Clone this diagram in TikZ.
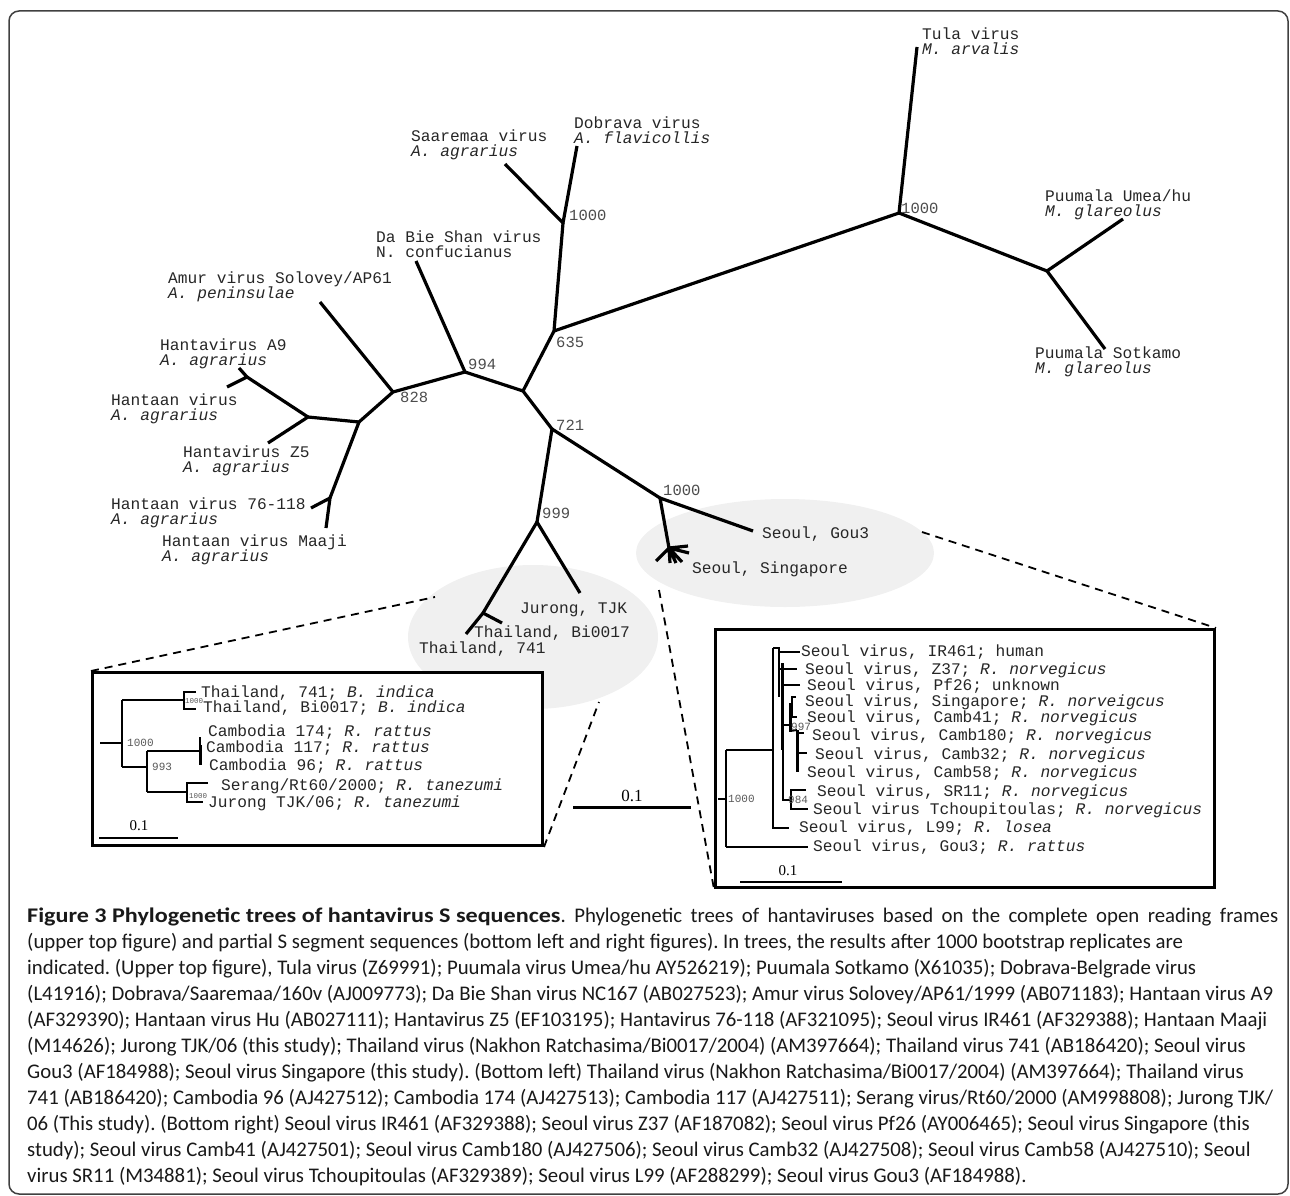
\documentclass[tikz,border=0pt]{standalone}
\usepackage{fontspec}
\newfontfamily\treefont{Liberation Mono}
\newfontfamily\capfont{Carlito}
\newfontfamily\barfont{Liberation Serif}
\begin{document}
\frenchspacing
\begin{tikzpicture}[x=1pt,y=-1pt,
  br/.style={line width=3.2pt, line join=round},
  ibr/.style={line width=2pt},
  ibox/.style={draw, line width=3pt, fill=white},
  blob/.style={fill=black!6, draw=none},
  zoomline/.style={line width=1.8pt, dash pattern=on 8pt off 6pt},
  lbl/.style={anchor=west, inner sep=0pt, align=left, text=black!85, font=\treefont\fontsize{16.2}{15.5}\selectfont},
  boot/.style={anchor=west, inner sep=0pt, text=black!70, font=\treefont\fontsize{15.5}{15.5}\selectfont},
  sboot/.style={anchor=west, inner sep=0pt, text=black!65, font=\treefont\fontsize{11}{11}\selectfont},
  tboot/.style={anchor=west, inner sep=0pt, text=black!65, font=\treefont\fontsize{7.5}{7.5}\selectfont},
  ilbl/.style={anchor=west, inner sep=0pt, text=black!85, font=\treefont\fontsize{16.2}{15.5}\selectfont},
  sbar/.style={inner sep=0pt, font=\barfont\fontsize{17}{17}\selectfont},
  capl/.style={anchor=base west, inner sep=0pt, text=black!90, font=\capfont\fontsize{20.8}{26}\selectfont}
]
\useasboundingbox (0,0) rectangle (1290,1196);
\draw[black!75, line width=1.5pt, rounded corners=10pt] (9,11) rectangle (1288,1194);

% grey highlight ellipses
\fill[blob] (533,637) ellipse [x radius=125, y radius=72];
\fill[blob] (785,553) ellipse [x radius=149, y radius=54];

% ---------- main unrooted tree ----------
\coordinate (tula) at (917,47);
\coordinate (nP) at (899,213);
\coordinate (pu) at (1047,271);
\coordinate (umea) at (1123,219);
\coordinate (sotk) at (1105,349);
\coordinate (n635) at (554,331);
\coordinate (nD) at (563,223);
\coordinate (dob) at (577,146);
\coordinate (saa) at (505,164);
\coordinate (ctr) at (523,391);
\coordinate (n994) at (465,372);
\coordinate (dbs) at (416,261);
\coordinate (n828) at (393,392);
\coordinate (amur) at (320,302);
\coordinate (hx) at (359,422);
\coordinate (hy) at (308,417);
\coordinate (hv) at (247,377);
\coordinate (a9) at (239,368);
\coordinate (htn) at (227,387);
\coordinate (z5) at (268,443);
\coordinate (hw) at (330,498);
\coordinate (h76) at (311,508);
\coordinate (maaji) at (326,528);
\coordinate (n721) at (552,429);
\coordinate (n999) at (537,522);
\coordinate (jur) at (580,593);
\coordinate (th) at (483,613);
\coordinate (t741) at (466,634);
\coordinate (tbi) at (502,623);
\coordinate (nS) at (660,498);
\coordinate (gou) at (753,531);
\coordinate (sing) at (669,548);
\coordinate (s1) at (688,546);
\coordinate (s2) at (689,553);
\coordinate (s3) at (682,562);
\coordinate (s4) at (676,563);
\coordinate (s5) at (670,563);
\coordinate (s6) at (656,561);

\draw[br] (tula) -- (nP) -- (n635);
\draw[br] (nP) -- (pu);
\draw[br] (umea) -- (pu) -- (sotk);
\draw[br] (nD) -- (n635) -- (ctr);
\draw[br] (dob) -- (nD) -- (saa);
\draw[br] (n994) -- (ctr) -- (n721);
\draw[br] (dbs) -- (n994) -- (n828);
\draw[br] (amur) -- (n828) -- (hx);
\draw[br] (hy) -- (hx) -- (hw);
\draw[br] (hv) -- (hy) -- (z5);
\draw[br] (a9) -- (hv) -- (htn);
\draw[br] (h76) -- (hw) -- (maaji);
\draw[br] (n999) -- (n721) -- (nS);
\draw[br] (jur) -- (n999) -- (th);
\draw[br] (t741) -- (th) -- (tbi);
\draw[br] (gou) -- (nS) -- (sing);
\draw[br] (sing) -- (s1) (sing) -- (s2) (sing) -- (s3) (sing) -- (s4) (sing) -- (s5) (sing) -- (s6);

% bootstrap values
\node[boot] (bP) at (901,208) {1000};
\node[boot] (bD) at (569,215) {1000};
\node[boot] (b635) at (556,342) {635};
\node[boot] (b994) at (468,364) {994};
\node[boot] (b828) at (400,397) {828};
\node[boot] (b721) at (556,425) {721};
\node[boot] (b999) at (542,513) {999};
\node[boot] (bS) at (663,490) {1000};

% taxon labels
\node[lbl] (Ltula) at (922,41) {Tula virus\\\textit{M. arvalis}};
\node[lbl] (Ldob) at (574,130) {Dobrava virus\\\textit{A. flavicollis}};
\node[lbl] (Lsaa) at (411,145) {Saaremaa virus\\\textit{A. agrarius}};
\node[lbl] (Ldbs) at (376,244) {Da Bie Shan virus\\N. confucianus};
\node[lbl] (Lamur) at (168,287) {Amur virus Solovey/AP61\\\textit{A. peninsulae}};
\node[lbl] (La9) at (160,354) {Hantavirus A9\\\textit{A. agrarius}};
\node[lbl] (Lhtn) at (111,409) {Hantaan virus\\\textit{A. agrarius}};
\node[lbl] (Lz5) at (183,461) {Hantavirus Z5\\\textit{A. agrarius}};
\node[lbl] (L76) at (111,513) {Hantaan virus 76-118\\\textit{A. agrarius}};
\node[lbl] (Lmaaji) at (162,550) {Hantaan virus Maaji\\\textit{A. agrarius}};
\node[lbl] (Lumea) at (1045,205) {Puumala Umea/hu\\\textit{M. glareolus}};
\node[lbl] (Lsotk) at (1035,362) {Puumala Sotkamo\\\textit{M. glareolus}};
\node[lbl] (Lgou) at (762,534) {Seoul, Gou3};
\node[lbl] (Lsing) at (692,569) {Seoul, Singapore};
\node[lbl] (Ljur) at (520,610) {Jurong, TJK};
\node[lbl] (Lbi) at (474,633) {Thailand, Bi0017};
\node[lbl] (L741) at (419,649) {Thailand, 741};

% main scale bar
\coordinate (msA) at (573,807);
\coordinate (msB) at (691,807);
\draw[line width=3pt] (msA) -- (msB);
\node[sbar] (ms) at (632,796) {0.1};

% ---------- zoom connectors ----------
\coordinate (zl1) at (435,597);
\coordinate (zl2) at (599,702);
\coordinate (zr1) at (659,590);
\coordinate (zr2) at (922,532);

% ---------- left inset ----------
\node[ibox, minimum width=450pt, minimum height=173pt, anchor=north west, inner sep=0pt] (lbox) at (91,671) {};
\draw[zoomline] (lbox.north west) -- (zl1);
\draw[zoomline] (lbox.south east) -- (zl2);

\coordinate (lr) at (100,743);
\coordinate (lA) at (122,743);
\coordinate (lAt) at (122,700);
\coordinate (lAb) at (122,767);
\coordinate (lT) at (184,700);
\coordinate (lTt) at (184,692);
\coordinate (lTb) at (184,709);
\coordinate (lt1) at (196,692);
\coordinate (lt2) at (196,709);
\coordinate (lB) at (147,767);
\coordinate (lBt) at (147,751);
\coordinate (lBb) at (147,792);
\coordinate (lC) at (200,751);
\coordinate (lCt) at (200,737);
\coordinate (lCb) at (200,765);
\coordinate (lS) at (187,792);
\coordinate (lSt) at (187,783);
\coordinate (lSb) at (187,802);
\coordinate (ls1) at (208,783);
\coordinate (ls2) at (203,802);

\draw[line width=1.3pt] (lr) -- (lA);
\draw[ibr] (lAt) -- (lAb);
\draw[ibr] (lAt) -- (lT);
\draw[ibr] (lt1) -- (lTt) -- (lTb) -- (lt2);
\draw[ibr] (lAb) -- (lB);
\draw[ibr] (lBt) -- (lBb);
\draw[ibr] (lBt) -- (lC);
\draw[ibr] (lCt) -- (lCb);
\draw[line width=3pt] (200,745) -- (lCb);
\draw[ibr] (lBb) -- (lS);
\draw[ibr] (ls1) -- (lSt) -- (lSb) -- (ls2);

\node[tboot] (lb1) at (185,701) {1000};
\node[sboot] (lb2) at (127,743) {1000};
\node[sboot] (lb3) at (152,767) {993};
\node[tboot] (lb4) at (189,796) {1000};

\node[ilbl] (i741) at (201,693) {Thailand, 741; \textit{B. indica}};
\node[ilbl] (ibi) at (203,708) {Thailand, Bi0017; \textit{B. indica}};
\node[ilbl] (ic174) at (208,732) {Cambodia 174; \textit{R. rattus}};
\node[ilbl] (ic117) at (206,748) {Cambodia 117; \textit{R. rattus}};
\node[ilbl] (ic96) at (209,766) {Cambodia 96; \textit{R. rattus}};
\node[ilbl] (iser) at (221,786) {Serang/Rt60/2000; \textit{R. tanezumi}};
\node[ilbl] (ijur) at (208,803) {Jurong TJK/06; \textit{R. tanezumi}};

\coordinate (lsA) at (99,838);
\coordinate (lsB) at (178,838);
\draw[line width=2pt] (lsA) -- (lsB);
\node[sbar, font=\barfont\fontsize{15}{15}\selectfont] (ls) at (139,826) {0.1};

% ---------- right inset ----------
\node[ibox, minimum width=499pt, minimum height=258pt, anchor=north west, inner sep=0pt] (rbox) at (714,628) {};
\draw[zoomline] (zr1) -- (rbox.south west);
\draw[zoomline] (zr2) -- (rbox.north east);

\coordinate (rr) at (718,799);
\coordinate (rA) at (726,799);
\coordinate (rAt) at (726,750);
\coordinate (rAb) at (726,847);
\coordinate (rgou) at (808,847);
\coordinate (rB) at (773,750);
\coordinate (rBt) at (773,648);
\coordinate (rBb) at (773,828);
\coordinate (rl99) at (789,828);
\coordinate (rC) at (779,648);
\coordinate (rCb) at (779,697);
\coordinate (rir) at (800,652);
\coordinate (rCi) at (779,652);
\coordinate (rz37a) at (780,669);
\coordinate (rz37) at (797,669);
\coordinate (rD) at (783,800);
\coordinate (rDt) at (783,685);
\coordinate (rpf) at (800,685);
\coordinate (rE) at (791,800);
\coordinate (rEt) at (791,790);
\coordinate (rEb) at (791,809);
\coordinate (rsr) at (806,790);
\coordinate (rtc) at (808,809);
\coordinate (rF) at (790,725);
\coordinate (rFt) at (792,697);
\coordinate (rFb) at (792,717);
\coordinate (rsg) at (796,697);
\coordinate (rc41) at (797,717);
\coordinate (rG) at (797,730);
\coordinate (rGb) at (797,772);
\coordinate (rc180) at (804,733);
\coordinate (rc32) at (807,753);

\draw[line width=1.3pt] (rr) -- (rA);
\draw[ibr] (rAt) -- (rAb);
\draw[ibr] (rAt) -- (rB);
\draw[ibr] (rAb) -- (rgou);
\draw[ibr] (rBt) -- (rBb) -- (rl99);
\draw[ibr] (rBt) -- (rC) -- (rCb);
\draw[ibr] (rCi) -- (rir);
\draw[ibr] (rz37a) -- (rz37);
\draw[ibr] (rpf) -- (rDt) -- (rD) -- (rE);
\draw[line width=3pt] (782,663) -- (782,750);
\draw[ibr] (rsr) -- (rEt) -- (rEb) -- (rtc);
\draw[ibr] (rD |- rF) -- (rF);
\draw[line width=3pt] (790,703) -- (rF) -- (790,732);
\draw[ibr] (rsg) -- (rFt) -- (rFb) -- (rc41);
\draw[ibr] (790,731) -- (rG);
\draw[line width=3pt] (rG) -- (rGb);
\draw[ibr] (797,733) -- (rc180);
\draw[ibr] (797,753) -- (rc32);

\node[sboot] (rb1) at (728,799) {1000};
\node[sboot] (rb2) at (791,727) {997};
\node[sboot] (rb3) at (788,800) {984};

\node[ilbl] (rir461) at (801,652) {Seoul virus, IR461; human};
\node[ilbl] (rZ37) at (805,670) {Seoul virus, Z37; \textit{R. norvegicus}};
\node[ilbl] (rPf) at (807,686) {Seoul virus, Pf26; unknown};
\node[ilbl] (rSg) at (805,702) {Seoul virus, Singapore; \textit{R. norveigcus}};
\node[ilbl] (rC41) at (807,718) {Seoul virus, Camb41; \textit{R. norvegicus}};
\node[ilbl] (rC180) at (812,736) {Seoul virus, Camb180; \textit{R. norvegicus}};
\node[ilbl] (rC32) at (815,755) {Seoul virus, Camb32; \textit{R. norvegicus}};
\node[ilbl] (rC58) at (807,773) {Seoul virus, Camb58; \textit{R. norvegicus}};
\node[ilbl] (rSR) at (817,792) {Seoul virus, SR11; \textit{R. norvegicus}};
\node[ilbl] (rTc) at (813,810) {Seoul virus Tchoupitoulas; \textit{R. norvegicus}};
\node[ilbl] (rL99) at (799,828) {Seoul virus, L99; \textit{R. losea}};
\node[ilbl] (rGou) at (813,847) {Seoul virus, Gou3; \textit{R. rattus}};

\coordinate (rsA) at (740,882);
\coordinate (rsB) at (842,882);
\draw[line width=2pt] (rsA) -- (rsB);
\node[sbar, font=\barfont\fontsize{15}{15}\selectfont] (rs) at (788,871) {0.1};

% ---------- caption ----------
\node[capl] (c1) at (27,922) {\makebox[1251pt][s]{\scalebox{1.16}[1]{\textbf{Figure 3 Phylogenetic trees of hantavirus S sequences}}. Phylogenetic trees of hantaviruses based on the complete open reading frames}};
\node[capl] (c2) at (27,948) {(upper top figure) and partial S segment sequences (bottom left and right figures). In trees, the results after 1000 bootstrap replicates are};
\node[capl] (c3) at (27,974) {indicated. (Upper top figure), Tula virus (Z69991); Puumala virus Umea/hu AY526219); Puumala Sotkamo (X61035); Dobrava-Belgrade virus};
\node[capl] (c4) at (27,1000) {(L41916); Dobrava/Saaremaa/160v (AJ009773); Da Bie Shan virus NC167 (AB027523); Amur virus Solovey/AP61/1999 (AB071183); Hantaan virus A9};
\node[capl] (c5) at (27,1026) {(AF329390); Hantaan virus Hu (AB027111); Hantavirus Z5 (EF103195); Hantavirus 76-118 (AF321095); Seoul virus IR461 (AF329388); Hantaan Maaji};
\node[capl] (c6) at (27,1052) {(M14626); Jurong TJK/06 (this study); Thailand virus (Nakhon Ratchasima/Bi0017/2004) (AM397664); Thailand virus 741 (AB186420); Seoul virus};
\node[capl] (c7) at (27,1078) {Gou3 (AF184988); Seoul virus Singapore (this study). (Bottom left) Thailand virus (Nakhon Ratchasima/Bi0017/2004) (AM397664); Thailand virus};
\node[capl] (c8) at (27,1104) {741 (AB186420); Cambodia 96 (AJ427512); Cambodia 174 (AJ427513); Cambodia 117 (AJ427511); Serang virus/Rt60/2000 (AM998808); Jurong TJK/};
\node[capl] (c9) at (27,1130) {06 (This study). (Bottom right) Seoul virus IR461 (AF329388); Seoul virus Z37 (AF187082); Seoul virus Pf26 (AY006465); Seoul virus Singapore (this};
\node[capl] (c10) at (27,1156) {study); Seoul virus Camb41 (AJ427501); Seoul virus Camb180 (AJ427506); Seoul virus Camb32 (AJ427508); Seoul virus Camb58 (AJ427510); Seoul};
\node[capl] (c11) at (27,1182) {virus SR11 (M34881); Seoul virus Tchoupitoulas (AF329389); Seoul virus L99 (AF288299); Seoul virus Gou3 (AF184988).};
\end{tikzpicture}
\end{document}
